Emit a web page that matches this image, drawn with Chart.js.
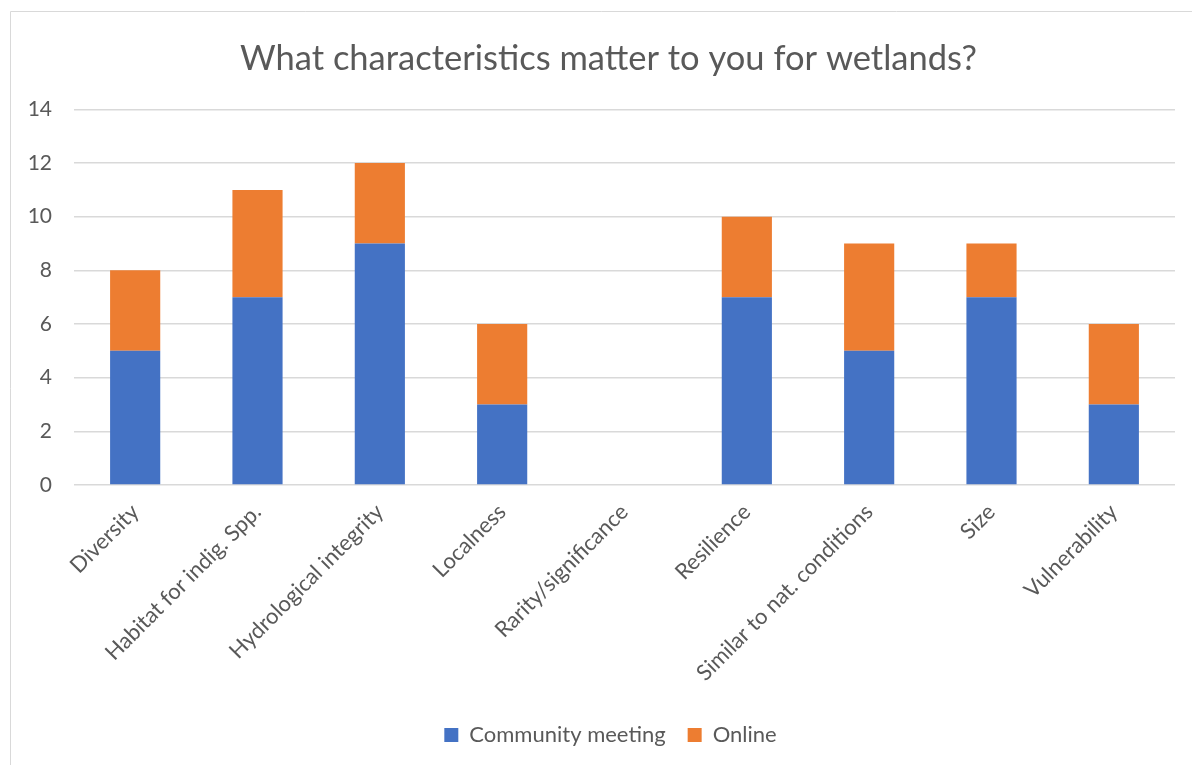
<!DOCTYPE html>
<html>
<head>
<meta charset="utf-8">
<script src="https://cdn.jsdelivr.net/npm/chart.js@4/dist/chart.umd.min.js"></script>
<style>
  html, body { margin: 0; padding: 0; background: #fff; }
  #wrap { position: relative; width: 1192px; height: 765px; }
</style>
</head>
<body>
<div id="wrap"><canvas id="wetlandChart"></canvas></div>
<script>
const categories = ['Diversity', 'Habitat for indig. Spp.', 'Hydrological integrity', 'Localness',
  'Rarity/significance', 'Resilience', 'Similar to nat. conditions', 'Size', 'Vulnerability'];
const communityMeeting = [5, 7, 9, 3, 0, 7, 5, 7, 3];
const online = [3, 4, 3, 3, 0, 3, 4, 2, 3];
const yTicks = [0, 2, 4, 6, 8, 10, 12, 14];

const FONT = 'Lato, "Open Sans", sans-serif';
const GREY = '#595959';

// light frame around the chart, open on the right and bottom
const frame = {
  id: 'frame',
  beforeDraw(chart) {
    const ctx = chart.ctx;
    ctx.save();
    ctx.strokeStyle = '#d9d9d9';
    ctx.lineWidth = 1;
    ctx.beginPath();
    ctx.moveTo(10.5, chart.height);
    ctx.lineTo(10.5, 11.5);
    ctx.lineTo(chart.width, 11.5);
    ctx.stroke();
    ctx.restore();
  }
};

// nudge title and legend a bit to the right so they sit over the middle of the frame
const recenter = {
  id: 'recenter',
  afterLayout(chart) {
    if (chart.titleBlock) { chart.titleBlock.left += 16; chart.titleBlock.right += 16; }
    if (chart.legend) { chart.legend.left += 18; chart.legend.right += 18; }
  }
};

new Chart(document.getElementById('wetlandChart'), {
  type: 'bar',
  data: {
    labels: categories,
    datasets: [
      { label: 'Community meeting', data: communityMeeting, backgroundColor: '#4472C4' },
      { label: 'Online', data: online, backgroundColor: '#ED7D31' }
    ]
  },
  options: {
    responsive: true,
    maintainAspectRatio: false,
    animation: false,
    layout: { padding: { left: 10, right: 17, top: 20, bottom: 9 } },
    datasets: { bar: { categoryPercentage: 1, barPercentage: 0.41 } },
    scales: {
      x: {
        stacked: true,
        grid: { display: false },
        border: { display: false },
        afterFit(axis) { axis.height = 217; },
        ticks: { color: GREY, font: { family: FONT, size: 22 }, maxRotation: 45, minRotation: 45, padding: 6 }
      },
      y: {
        stacked: true,
        min: 0, max: 14,
        afterBuildTicks(axis) { axis.ticks = yTicks.map(v => ({ value: v })); },
        afterFit(axis) { axis.width = 64; },
        grid: { color: '#d9d9d9', lineWidth: 1.5, drawTicks: false },
        border: { display: false },
        ticks: { color: GREY, font: { family: FONT, size: 21 }, padding: 22 }
      }
    },
    plugins: {
      title: {
        display: true,
        text: 'What characteristics matter to you for wetlands?',
        color: GREY,
        font: { family: FONT, size: 34.5, weight: 'normal' },
        padding: { top: 18, bottom: 30 }
      },
      legend: {
        position: 'bottom',
        labels: { color: GREY, font: { family: FONT, size: 22 }, boxWidth: 14, boxHeight: 14, padding: 22 }
      },
      tooltip: { enabled: false }
    }
  },
  plugins: [frame, recenter]
});
</script>
</body>
</html>
